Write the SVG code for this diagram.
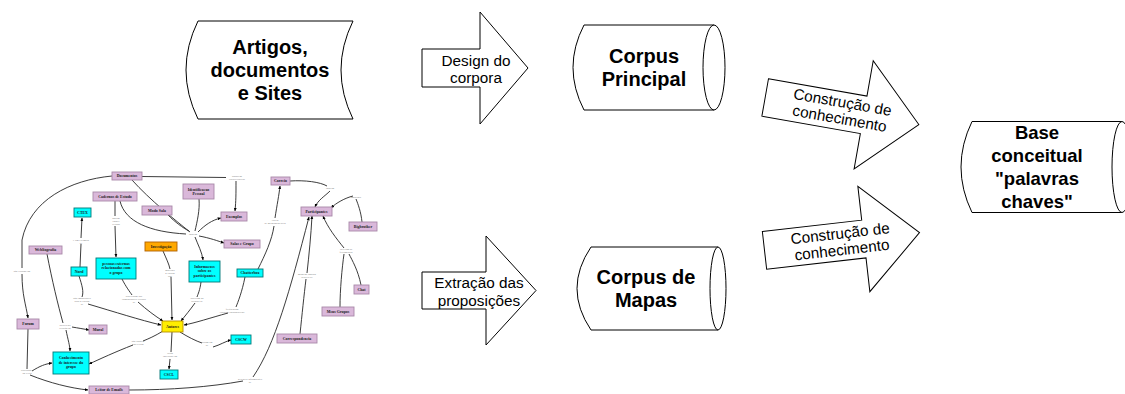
<svg xmlns="http://www.w3.org/2000/svg" width="1125" height="394" viewBox="0 0 1125 394">
<defs>
<style>
.sh{fill:#fff;stroke:#000;stroke-width:1}
.bt{font-family:"Liberation Sans",Arial,sans-serif;font-weight:bold;font-size:20px;text-anchor:middle;fill:#000}
.at{font-family:"Liberation Sans",Arial,sans-serif;font-size:15.3px;text-anchor:middle;fill:#000}
.pk{fill:#dab8da;stroke:#a888a8;stroke-width:0.9}
.cy{fill:#00ffff;stroke:#007878;stroke-width:0.9}
.yl{fill:#ffee00;stroke:#b89000;stroke-width:0.9}
.or{fill:#ffa800;stroke:#b06000;stroke-width:0.9}
.nt{font-family:"Liberation Serif","Times New Roman",serif;font-weight:bold;font-size:3.9px;text-anchor:middle;fill:#1a1a1a}
.lt{font-family:"Liberation Serif","Times New Roman",serif;font-size:2.8px;text-anchor:middle;fill:#808080}
.cl{fill:none;stroke:#262626;stroke-width:0.9}
.ca{fill:none;stroke:#262626;stroke-width:0.9;marker-end:url(#ah)}
</style>
<marker id="ah" viewBox="0 0 6 6" refX="5.5" refY="3" markerWidth="4" markerHeight="4" orient="auto"><path d="M0,0.5 L6,3 L0,5.5 z" fill="#000"/></marker>
</defs>
<rect width="1125" height="394" fill="#fff"/>

<!-- main flow nodes -->
<g id="artigos">
<path class="sh" d="M198,21 L353,21 Q329,70 353,119 L198,119 Q174,70 198,21 Z"/>
<text class="bt" x="270" y="54">Artigos,</text>
<text class="bt" x="270" y="77">documentos</text>
<text class="bt" x="270" y="100">e Sites</text>
</g>
<g id="design">
<polygon class="sh" points="422,49 480,49 480,12 528,68 480,124 480,87 422,87"/>
<text class="at" x="476" y="65.5">Design do</text>
<text class="at" x="476" y="82.5">corpora</text>
</g>
<g id="corpus-principal">
<path class="sh" d="M584,25 L714,25 L714,110 L584,110 Q562,67.5 584,25 Z"/>
<ellipse class="sh" cx="714" cy="67.5" rx="11" ry="42.5"/>
<text class="bt" x="644" y="63">Corpus</text>
<text class="bt" x="644" y="86">Principal</text>
</g>
<g id="extracao">
<polygon class="sh" points="422,272 486,272 486,236 536,290.5 486,345 486,309 422,309"/>
<text class="at" x="479" y="287.5">Extração das</text>
<text class="at" x="479" y="305.5">proposições</text>
</g>
<g id="corpus-mapas">
<path class="sh" d="M591,247 L718,247 L718,330 L591,330 Q563,288.5 591,247 Z"/>
<ellipse class="sh" cx="718" cy="288.5" rx="8" ry="41.5"/>
<text class="bt" x="646" y="284">Corpus de</text>
<text class="bt" x="646" y="307">Mapas</text>
</g>
<g id="construcao-1" transform="translate(842,111) rotate(10)">
<polygon class="sh" points="-78,-19 22,-19 22,-55 78,0 22,55 22,19 -78,19"/>
<text class="at" x="-1" y="-3.5">Construção de</text>
<text class="at" x="-1" y="13">conhecimento</text>
</g>
<g id="construcao-2" transform="translate(842,241.5) rotate(-6.5)">
<polygon class="sh" points="-78,-19 22,-19 22,-53 78,0 22,53 22,19 -78,19"/>
<text class="at" x="-1" y="-3">Construção de</text>
<text class="at" x="-1" y="13.5">conhecimento</text>
</g>
<g id="base-conceitual">
<path class="sh" d="M972,121.5 L1122,121.5 L1122,212.5 L972,212.5 Q950,167 972,121.5 Z"/>
<ellipse class="sh" cx="1122" cy="167" rx="10" ry="45.5"/>
<text class="bt" style="font-size:18.5px" x="1037" y="139">Base</text>
<text class="bt" style="font-size:18.5px" x="1037" y="162">conceitual</text>
<text class="bt" style="font-size:18.5px" x="1037" y="185">"palavras</text>
<text class="bt" style="font-size:18.5px" x="1037" y="207.5">chaves"</text>
</g>

<!-- concept map connectors -->
<g id="connectors">
<path class="cl" d="M142,176.5 L226,177.5"/>
<path class="ca" d="M236,181 C236,195 236,200 235,211"/>
<path class="cl" d="M112,176 C70,180 30,200 22,240 L22,268"/>
<path class="ca" d="M22,274 C22,295 26,305 28,318"/>
<path class="cl" d="M28,329 L27,369"/>
<path class="ca" d="M32,371 C40,366 45,364 52,363"/>
<path class="ca" d="M30,375 C50,383 70,388 88,390"/>
<path class="cl" d="M129,390 C170,390 210,387 243,381"/>
<path class="ca" d="M253,377 C275,345 290,290 309,217"/>
<path class="cl" d="M132,180 C150,200 175,220 190,232"/>
<path class="cl" d="M120,201 C125,222 150,232 186,234"/>
<path class="cl" d="M168,215 C175,222 183,228 189,231"/>
<path class="cl" d="M199,199 C200,210 197,222 195,231"/>
<path class="ca" d="M198,232 C205,225 212,220 221,218"/>
<path class="ca" d="M199,236 C210,238 218,241 224,243"/>
<path class="ca" d="M195,237 C198,245 202,252 203,260"/>
<path class="cl" d="M115,201 L115,216"/>
<path class="ca" d="M115,226 L116,257"/>
<path class="cl" d="M80,267 L81,244"/>
<path class="ca" d="M81,238 L82,218"/>
<path class="cl" d="M79,276 C82,285 84,292 82,297"/>
<path class="ca" d="M88,304 C115,312 140,320 161,325"/>
<path class="cl" d="M122,279 C126,287 130,292 132,295"/>
<path class="ca" d="M138,302 C147,310 155,316 163,321"/>
<path class="cl" d="M163,251 C166,258 169,264 170,269"/>
<path class="ca" d="M171,277 L172,320"/>
<path class="cl" d="M201,282 C200,290 198,294 197,297"/>
<path class="ca" d="M195,303 C190,310 185,316 181,321"/>
<path class="cl" d="M245,277 C242,292 238,302 236,307"/>
<path class="ca" d="M228,313 C210,318 195,323 184,325"/>
<path class="cl" d="M258,269 C265,255 272,240 274,226"/>
<path class="ca" d="M275,218 C277,205 279,195 280,186"/>
<path class="cl" d="M290,181 C305,180 320,182 327,186"/>
<path class="ca" d="M330,191 C325,196 318,200 315,207"/>
<path class="cl" d="M362,222 C361,212 358,204 356,199"/>
<path class="ca" d="M353,196 C345,198 336,203 331,208"/>
<path class="cl" d="M361,285 C358,270 352,260 349,254"/>
<path class="cl" d="M340,307 C340,290 342,268 344,254"/>
<path class="ca" d="M344,248 C336,238 328,228 323,216"/>
<path class="cl" d="M300,334 C302,315 304,295 306,279"/>
<path class="ca" d="M307,273 C309,255 311,235 312,216"/>
<path class="cl" d="M47,254 C52,280 58,305 63,323"/>
<path class="ca" d="M66,330 C68,340 70,346 70,351"/>
<path class="ca" d="M72,327 C78,328 84,329 89,330"/>
<path class="cl" d="M163,331 C155,336 148,339 143,341"/>
<path class="ca" d="M133,345 C115,352 100,359 89,364"/>
<path class="cl" d="M172,332 L171,352"/>
<path class="ca" d="M170,359 L169,369"/>
<path class="cl" d="M180,332 C188,337 196,341 202,343"/>
<path class="ca" d="M213,347 C220,345 226,341 231,340"/>
</g>

<!-- linking phrases -->
<g id="link-phrases">
<text class="lt" x="237" y="176.5">possuem</text><text class="lt" x="237" y="179.5">características</text>
<text class="lt" x="22" y="272">são citados em</text>
<text class="lt" x="27" y="371">discussões</text><text class="lt" x="27" y="374">do texto</text>
<text class="lt" x="193" y="235">contém</text>
<text class="lt" x="116" y="219">podem</text><text class="lt" x="116" y="222">conter</text><text class="lt" x="116" y="225">relatos</text>
<text class="lt" x="81" y="241">é um exemplo</text><text class="lt" x="81" y="244">de</text>
<text class="lt" x="82" y="299">são importantes</text><text class="lt" x="82" y="302">para o estudo</text><text class="lt" x="82" y="305">de</text>
<text class="lt" x="134" y="297">participam das</text><text class="lt" x="134" y="300">comunidades virtuais</text><text class="lt" x="134" y="303">de</text>
<text class="lt" x="170" y="271">motivou</text><text class="lt" x="170" y="274">o estudo</text><text class="lt" x="170" y="277">dos</text>
<text class="lt" x="197" y="299">auxiliam na</text><text class="lt" x="197" y="302">escolha de</text>
<text class="lt" x="232" y="310">frequentam</text><text class="lt" x="232" y="313">espaços colaborativos</text>
<text class="lt" x="275" y="221">Envio</text><text class="lt" x="275" y="224">de mensagens pelo</text>
<text class="lt" x="330" y="189">contém</text>
<text class="lt" x="356" y="197.5">monitora</text>
<text class="lt" x="346" y="250">utilizam as</text><text class="lt" x="346" y="253">ferramentas</text>
<text class="lt" x="307" y="275">mantém contato</text><text class="lt" x="307" y="278">através de</text>
<text class="lt" x="65" y="326">auxilia na</text><text class="lt" x="65" y="329">criação do</text>
<text class="lt" x="138" y="342">são autores</text><text class="lt" x="138" y="345">dos textos</text>
<text class="lt" x="170" y="354">estão</text><text class="lt" x="170" y="357">inseridos em</text>
<text class="lt" x="207" y="343">atuam em</text><text class="lt" x="207" y="346">de</text>
<text class="lt" x="250" y="380">gerencia informações</text><text class="lt" x="250" y="383">de</text>
</g>

<!-- concept map nodes -->
<g id="documentos"><rect class="pk" x="112" y="172" width="30" height="8"/><text class="nt" x="127" y="177.4">Documentos</text></g>
<g id="cadernos"><rect class="pk" x="93" y="192" width="44" height="9"/><text class="nt" x="115" y="197.9">Cadernos de Estudo</text></g>
<g id="identificacao"><rect class="pk" x="183" y="184" width="31" height="15"/><text class="nt" x="198.5" y="190.5">Identificacao</text><text class="nt" x="198.5" y="195.2">Pessoal</text></g>
<g id="modo-sala"><rect class="pk" x="142" y="206" width="30" height="9"/><text class="nt" x="157" y="211.9">Modo Sala</text></g>
<g id="exemplos"><rect class="pk" x="221" y="212" width="26" height="9"/><text class="nt" x="234" y="217.9">Exemplos</text></g>
<g id="salas-grupo"><rect class="pk" x="224" y="240" width="36" height="8"/><text class="nt" x="242" y="245.4">Salas e Grupo</text></g>
<g id="correio"><rect class="pk" x="271" y="177" width="19" height="8"/><text class="nt" x="280.5" y="182.4">Correio</text></g>
<g id="participantes"><rect class="pk" x="301" y="207" width="31" height="9"/><text class="nt" x="316.5" y="212.9">Participantes</text></g>
<g id="bigbrother"><rect class="pk" x="349" y="222" width="28" height="9"/><text class="nt" x="363" y="227.9">Bigbrother</text></g>
<g id="webliografia"><rect class="pk" x="29" y="246" width="33" height="8"/><text class="nt" x="45.5" y="251.4">Webliografia</text></g>
<g id="chat"><rect class="pk" x="354" y="285" width="15" height="9"/><text class="nt" x="361.5" y="290.9">Chat</text></g>
<g id="meus-grupos"><rect class="pk" x="322" y="307" width="32" height="9"/><text class="nt" x="338" y="312.9">Meus Grupos</text></g>
<g id="correspondencia"><rect class="pk" x="277" y="334" width="40" height="9"/><text class="nt" x="297" y="339.9">Correspondencia</text></g>
<g id="forum"><rect class="pk" x="17" y="319" width="22" height="10"/><text class="nt" x="28" y="325.4">Forum</text></g>
<g id="mural"><rect class="pk" x="89" y="325" width="18" height="9"/><text class="nt" x="98" y="330.9">Mural</text></g>
<g id="leitor-emails"><rect class="pk" x="89" y="386" width="40" height="8"/><text class="nt" x="109" y="391.4">Leitor de Emails</text></g>
<g id="ctex"><rect class="cy" x="74" y="208" width="17" height="9"/><text class="nt" x="82.5" y="213.9">CTEX</text></g>
<g id="nord"><rect class="cy" x="71" y="267" width="16" height="9"/><text class="nt" x="79" y="272.9">Nord</text></g>
<g id="pessoas"><rect class="cy" x="96" y="258" width="40" height="21"/><text class="nt" x="116" y="264.5">pessoas externas</text><text class="nt" x="116" y="269.2">relacionadas com</text><text class="nt" x="116" y="273.9">o grupo</text></g>
<g id="informacoes"><rect class="cy" x="189" y="261" width="31" height="21"/><text class="nt" x="204.5" y="267.5">Informacoes</text><text class="nt" x="204.5" y="272.2">sobre os</text><text class="nt" x="204.5" y="276.9">participantes</text></g>
<g id="chatterbox"><rect class="cy" x="237" y="269" width="26" height="8"/><text class="nt" x="250" y="274.4">Chatterbox</text></g>
<g id="cscw"><rect class="cy" x="231" y="335" width="20" height="9"/><text class="nt" x="241" y="340.9">CSCW</text></g>
<g id="conhecimento"><rect class="cy" x="53" y="352" width="36" height="22"/><text class="nt" x="71" y="358.8">Conhecimento</text><text class="nt" x="71" y="363.5">de interesse do</text><text class="nt" x="71" y="368.2">grupo</text></g>
<g id="cscl"><rect class="cy" x="160" y="370" width="18" height="9"/><text class="nt" x="169" y="375.9">CSCL</text></g>
<g id="autores"><rect class="yl" x="162" y="321" width="21" height="11"/><text class="nt" x="172.5" y="327.9">Autores</text></g>
<g id="investigacao"><rect class="or" x="145" y="242" width="32" height="9"/><text class="nt" x="161" y="247.9">Investigação</text></g>
</svg>
